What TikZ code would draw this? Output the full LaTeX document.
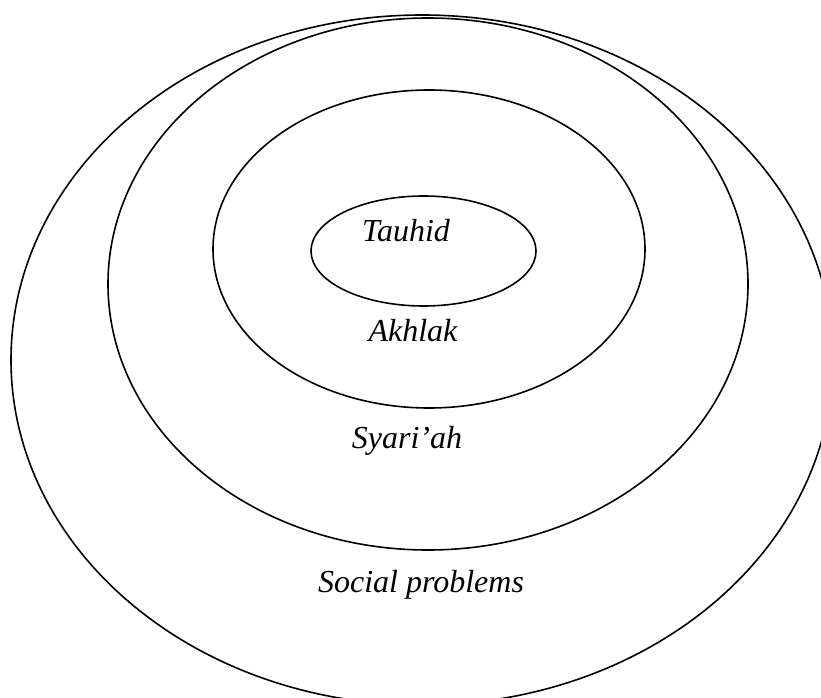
\documentclass[tikz,border=0pt]{standalone}
\usepackage{fontspec}
\setmainfont{Liberation Serif}
\usetikzlibrary{shapes.geometric}
\begin{document}
\begin{tikzpicture}[x=0.75pt,y=-0.75pt, ring/.style={draw,ellipse,line width=1.2pt,inner sep=0pt}, lbl/.style={font=\fontsize{24}{28}\selectfont\itshape,inner sep=0pt}]
\useasboundingbox (0,0) rectangle (821,698);
\node[ring,minimum width=616.5pt,minimum height=517.5pt] (soc) at (422,360) {};
\node[ring,minimum width=480pt,minimum height=399pt] (syr) at (428,284) {};
\node[ring,minimum width=324pt,minimum height=238.5pt] (akh) at (429,249) {};
\node[ring,minimum width=168.75pt,minimum height=82.5pt] (tau) at (423.5,251) {};
\node[lbl] (tauT) at (406,231) {Tauhid};
\node[lbl] (akhT) at (413,331) {Akhlak};
\node[lbl] (syrT) at (407,441) {Syari’ah};
\node[lbl] (socT) at (421,585) {Social problems};
\end{tikzpicture}
\end{document}
